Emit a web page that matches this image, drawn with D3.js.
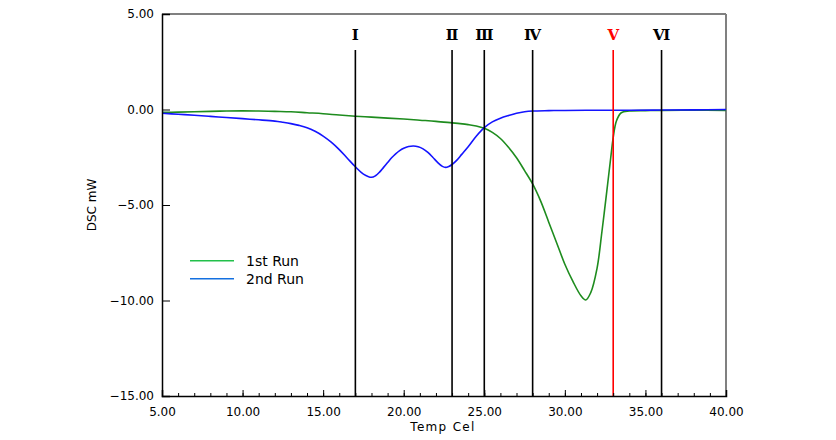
<!DOCTYPE html>
<html><head><meta charset="utf-8">
<script src="https://cdn.jsdelivr.net/npm/d3@7"></script>
<style>
body{margin:0;background:#fff;}
svg{display:block;}
text{font-family:"DejaVu Sans",sans-serif;}
</style></head>
<body><svg id="c" width="836" height="440"></svg>
<script>
// ---- data ----
const run1Temp = [5,6,7,8,9,10,11,12,13,14,15,16,17,18,19,20,21,22,23,23.5,24,24.5,25,25.5,26,26.5,27,27.5,28,28.5,29,29.5,30,30.5,31,31.3,31.6,32,32.3,32.6,32.85,33,33.2,33.5,34,35,36,38,40];
const run1DSC  = [-0.15,-0.14,-0.12,-0.1,-0.08,-0.07,-0.08,-0.1,-0.12,-0.17,-0.22,-0.29,-0.35,-0.4,-0.45,-0.5,-0.56,-0.62,-0.7,-0.74,-0.79,-0.86,-0.98,-1.2,-1.52,-1.98,-2.53,-3.2,-3.9,-4.8,-5.9,-7.0,-8.1,-9.0,-9.75,-9.97,-9.6,-8.3,-6.4,-4.3,-2.5,-1.47,-0.6,-0.17,-0.08,-0.06,-0.05,-0.04,-0.05];
const run2Temp = [5,6,7,8,9,10,11,12,12.5,13,13.5,14,14.5,15,15.5,16,16.5,17,17.5,18,18.25,18.5,18.75,19,19.25,19.5,19.75,20,20.3,20.6,20.9,21.2,21.5,21.8,22.1,22.4,22.6,22.8,23,23.3,23.6,24,24.5,25,25.5,26,26.5,27,27.5,28,29,30,32,34,36,38,40];
const run2DSC  = [-0.2,-0.25,-0.3,-0.36,-0.42,-0.48,-0.54,-0.61,-0.67,-0.74,-0.83,-0.95,-1.14,-1.39,-1.71,-2.1,-2.55,-3.0,-3.38,-3.55,-3.47,-3.28,-3.03,-2.78,-2.53,-2.32,-2.15,-2.03,-1.94,-1.91,-1.95,-2.06,-2.25,-2.5,-2.77,-2.98,-3.03,-2.98,-2.88,-2.65,-2.35,-1.95,-1.4,-0.95,-0.65,-0.46,-0.32,-0.2,-0.12,-0.08,-0.06,-0.05,-0.04,-0.04,-0.03,-0.02,0.0];
const markerTemps  = [17,23,25,28,33,36];
const markerLabels = ["Ⅰ","Ⅱ","Ⅲ","Ⅳ","Ⅴ","Ⅵ"];
const markerColors = ["#000","#000","#000","#000","#ff0000","#000"];
const xTicks = [5,10,15,20,25,30,35,40];
const yTicks = [5,0,-5,-10,-15];
const seriesNames = ["1st Run","2nd Run"];

// ---- layout ----
const svg = d3.select("#c");
const L=162, R=726, T=14, B=396;
const x = d3.scaleLinear().domain([5,40]).range([L,R]);
const y = d3.scaleLinear().domain([-15,5]).range([B,T]);

// frame top/right (gray)
svg.append("line").attr("x1",L).attr("x2",R).attr("y1",T).attr("y2",T).attr("stroke","#808080").attr("stroke-width",2);
svg.append("line").attr("x1",R).attr("x2",R).attr("y1",T).attr("y2",B).attr("stroke","#808080").attr("stroke-width",2);

// curves
const line = d3.line().x(d=>x(d[0])).y(d=>y(d[1])).curve(d3.curveCatmullRom.alpha(0.5));
const r1 = run1Temp.map((t,i)=>[t,run1DSC[i]]);
const r2 = run2Temp.map((t,i)=>[t,run2DSC[i]]);
svg.append("path").attr("d",line(r1)).attr("fill","none").attr("stroke","#1e8c1e").attr("stroke-width",1.6);
svg.append("path").attr("d",line(r2)).attr("fill","none").attr("stroke","#1414ff").attr("stroke-width",1.6);

// marker lines
markerTemps.forEach((t,i)=>{
  svg.append("line").attr("x1",x(t)).attr("x2",x(t)).attr("y1",50).attr("y2",B)
    .attr("stroke",markerColors[i]).attr("stroke-width",1.6);
  svg.append("text").attr("x",x(t)).attr("y",40).attr("text-anchor","middle")
    .attr("font-weight","bold").attr("font-size",15)
    .style("font-family","'DejaVu Serif',serif")
    .attr("fill",markerColors[i]).text(markerLabels[i]);
});

// x axis minor ticks
const xMinor = d3.axisBottom(x).tickValues(d3.range(5,41,1)).tickSize(-3).tickFormat("");
const gxm = svg.append("g").attr("transform",`translate(0,${B})`).call(xMinor);
gxm.select(".domain").remove();
gxm.selectAll("line").attr("stroke","#000");
const xMajor = d3.axisBottom(x).tickValues(xTicks).tickSize(-6).tickPadding(11).tickFormat(d3.format(".2f"));
const gx = svg.append("g").attr("transform",`translate(0,${B})`).call(xMajor);
gx.select(".domain").attr("stroke","#000").attr("stroke-width",1.5);
gx.selectAll("line").attr("stroke","#000");
gx.selectAll("text").attr("font-size",12).attr("fill","#000").style("font-family","'DejaVu Sans',sans-serif");

// y axis
const yAx = d3.axisLeft(y).tickValues(yTicks).tickSize(-8).tickPadding(8).tickFormat(d3.format(".2f"));
const gy = svg.append("g").attr("transform",`translate(${L},0)`).call(yAx);
gy.select(".domain").attr("stroke","#000").attr("stroke-width",1.5);
gy.selectAll("line").attr("stroke","#000");
gy.selectAll("text").attr("font-size",12).attr("fill","#000").style("font-family","'DejaVu Sans',sans-serif");

// axis titles
svg.append("text").attr("x",443).attr("y",431).attr("text-anchor","middle")
  .attr("font-size",12).attr("letter-spacing","1.3px").text("Temp Cel");
svg.append("text").attr("transform","translate(96,205) rotate(-90)").attr("text-anchor","middle")
  .attr("font-size",12).text("DSC mW");

// legend
const legColors = ["#22c04a","#1470e0"];
seriesNames.forEach((n,i)=>{
  const yy = 260.7 + i*18;
  svg.append("line").attr("x1",190).attr("x2",234).attr("y1",yy).attr("y2",yy)
    .attr("stroke",legColors[i]).attr("stroke-width",1.6);
  svg.append("text").attr("x",246).attr("y",yy+5).attr("font-size",14).attr("fill","#000").text(n);
});
</script></body></html>
